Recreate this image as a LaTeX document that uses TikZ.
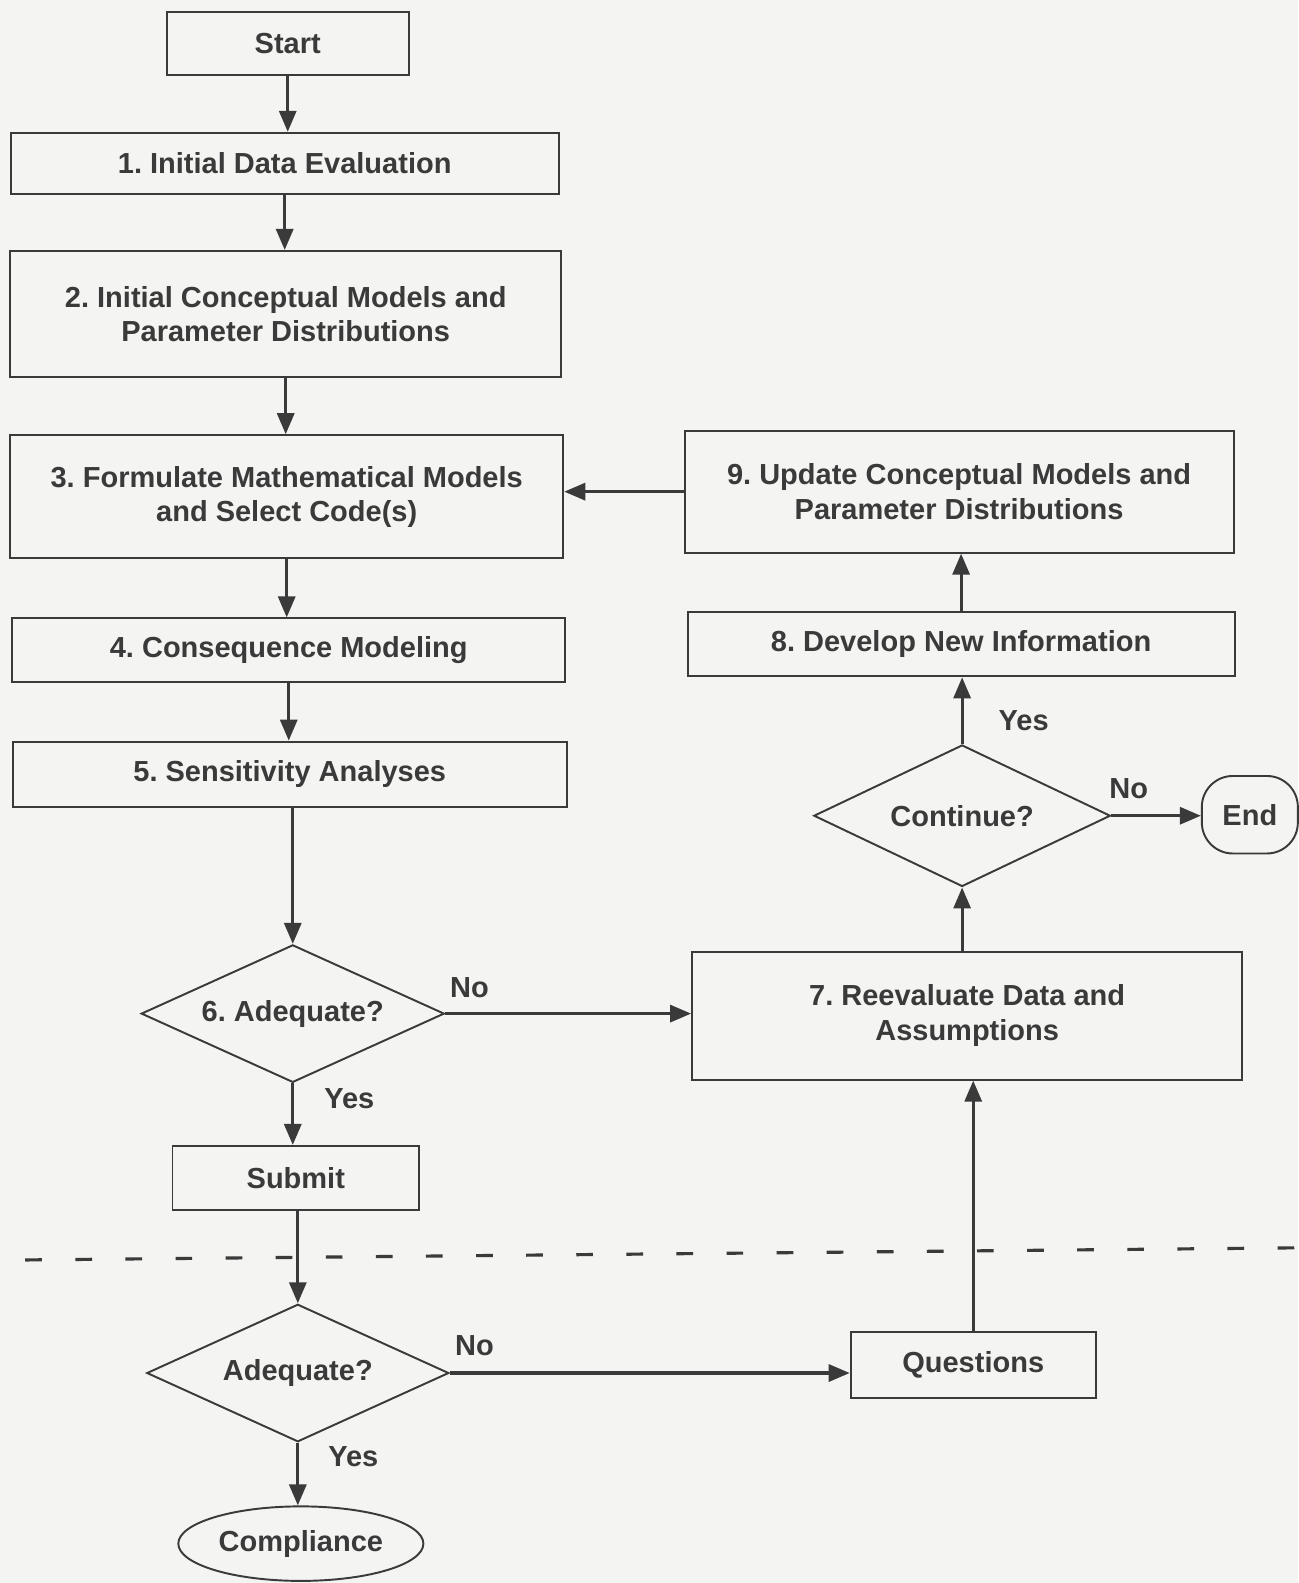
\documentclass[tikz,border=0pt]{standalone}
\usepackage{fontspec}
\setmainfont{Liberation Sans}
\usetikzlibrary{shapes.geometric,arrows.meta}
\definecolor{ink}{HTML}{3A3A3A}
\definecolor{paper}{HTML}{F4F4F2}
\frenchspacing
\begin{document}
\begin{tikzpicture}[x=0.020186cm,y=-0.020186cm,
  every node/.style={font=\bfseries\fontsize{16.5}{19.5}\selectfont, text=ink},
  box/.style={draw=ink, line width=1.1pt, align=center, inner sep=0pt},
  dec/.style={draw=ink, line width=1.1pt, diamond, inner sep=0pt, aspect=2.2},
  flow/.style={draw=ink, line width=1.8pt, -{Triangle[length=0.42cm,width=0.34cm]}},
  lbl/.style={inner sep=1pt}
]
% page
\fill[paper] (0,0) rectangle (1286,1568);
\useasboundingbox (0,0) rectangle (1286,1568);

% left column
\node[box, minimum width=4.84cm, minimum height=1.25cm] (start) at (285,43) {Start};
\node[box, minimum width=10.96cm, minimum height=1.23cm] (n1) at (282,162) {1. Initial Data Evaluation};
\node[box, minimum width=11.02cm, minimum height=2.52cm] (n2) at (283,311) {2. Initial Conceptual Models and\\Parameter Distributions};
\node[box, minimum width=11.06cm, minimum height=2.46cm] (n3) at (284,492) {3. Formulate Mathematical Models\\and Select Code(s)};
\node[box, minimum width=11.06cm, minimum height=1.27cm] (n4) at (286,644) {4. Consequence Modeling};
\node[box, minimum width=11.08cm, minimum height=1.31cm] (n5) at (287,767) {5. Sensitivity Analyses};
\node[dec, minimum width=6.06cm, minimum height=2.75cm] (q6) at (290,1004) {6. Adequate?};
\node[box, minimum width=4.93cm, minimum height=1.29cm] (sub) at (293,1167) {Submit};
\node[dec, minimum width=6.04cm, minimum height=2.75cm] (q2) at (295,1360) {Adequate?};
\node[draw=ink, line width=1.1pt, ellipse, inner sep=0pt, minimum width=4.9cm, minimum height=1.49cm] (comp) at (298,1529) {Compliance};

% right column
\node[box, minimum width=4.9cm, minimum height=1.31cm] (ques) at (964,1352) {Questions};
\node[box, minimum width=11.0cm, minimum height=2.56cm] (n7) at (958,1006) {7. Reevaluate Data and\\Assumptions};
\node[dec, minimum width=5.93cm, minimum height=2.83cm] (cont) at (953,808) {Continue?};
\node[box, rounded corners=0.62cm, minimum width=1.92cm, minimum height=1.55cm] (end) at (1238,807) {End};
\node[box, minimum width=10.94cm, minimum height=1.29cm] (n8) at (952,638) {8. Develop New Information};
\node[box, minimum width=10.98cm, minimum height=2.44cm] (n9) at (950,487) {9. Update Conceptual Models and\\Parameter Distributions};

% main sequence
\draw[flow] (start.south) -- (start.south |- n1.north);
\draw[flow] (n1.south) -- (n1.south |- n2.north);
\draw[flow] (n2.south) -- (n2.south |- n3.north);
\draw[flow] (n3.south) -- (n3.south |- n4.north);
\draw[flow] (n4.south) -- (n4.south |- n5.north);
\draw[flow] (q6.north |- n5.south) -- (q6.north);
\draw[flow] (q6.south) -- (q6.south |- sub.north);
\draw[flow] (q2.north |- sub.south) -- (q2.north);
\draw[flow] (q2.south) -- (q2.south |- comp.north);

% loop back
\draw[flow] (q6.east) -- (q6.east -| n7.west);
\draw[flow] (q2.east) -- (q2.east -| ques.west);
\draw[flow] (ques.north) -- (ques.north |- n7.south);
\draw[flow] (cont.south |- n7.north) -- (cont.south);
\draw[flow] (cont.north) -- (cont.north |- n8.south);
\draw[flow] (cont.east) -- (cont.east -| end.west);
\draw[flow] (n8.north) -- (n8.north |- n9.south);
\draw[flow] (n9.west) -- (n3.east |- n9.west);

% branch labels
\node[lbl] (l6no) at (465,978) {No};
\node[lbl] (l6yes) at (346,1088) {Yes};
\node[lbl] (l2no) at (470,1333) {No};
\node[lbl] (l2yes) at (350,1443) {Yes};
\node[lbl] (lcyes) at (1014,714) {Yes};
\node[lbl] (lcno) at (1118,781) {No};

% submission boundary
\coordinate (cutL) at (25,1248);
\coordinate (cutR) at (1282,1236);
\draw[ink, line width=1.8pt, dash pattern=on 9.5pt off 19pt] (cutL) -- (cutR);
\end{tikzpicture}
\end{document}
